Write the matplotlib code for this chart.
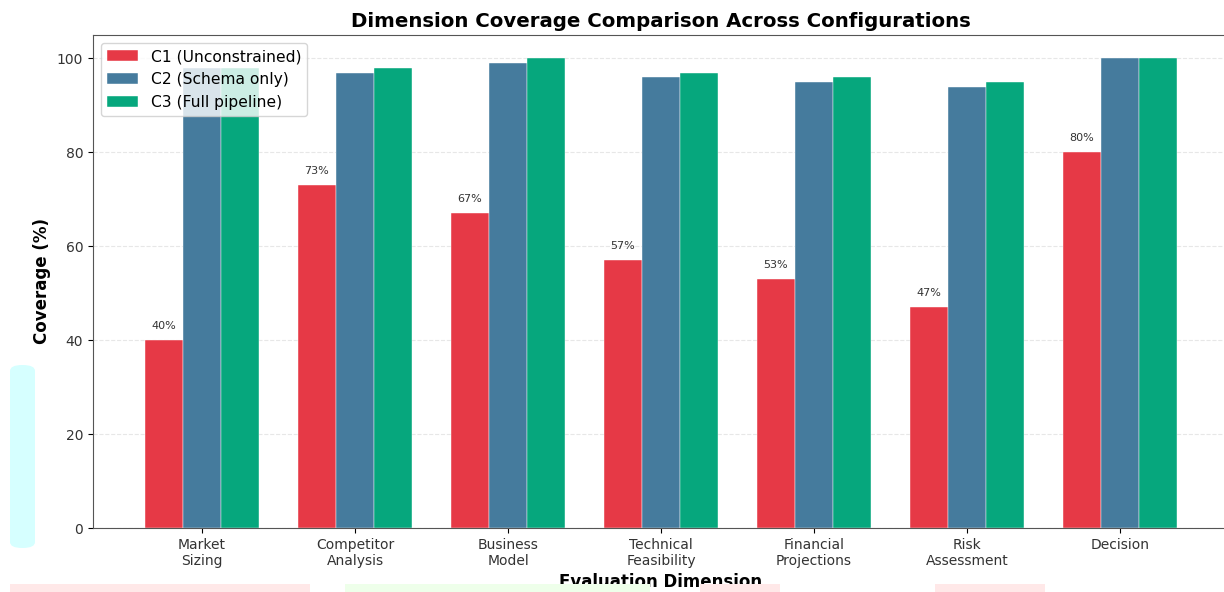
import matplotlib
matplotlib.use("Agg")
import matplotlib.pyplot as plt
import numpy as np
from matplotlib.patches import FancyBboxPatch, Rectangle

categories = ["Market\nSizing", "Competitor\nAnalysis", "Business\nModel", "Technical\nFeasibility",
              "Financial\nProjections", "Risk\nAssessment", "Decision"]
c1_values = [40, 73, 67, 57, 53, 47, 80]
c2_values = [98, 97, 99, 96, 95, 94, 100]
c3_values = [98, 98, 100, 97, 96, 95, 100]
series_names = ["C1 (Unconstrained)", "C2 (Schema only)", "C3 (Full pipeline)"]
colors = ["#E63946", "#457B9D", "#06A77D"]

fig = plt.figure(figsize=(12.24, 5.92), dpi=100)

# faint background decorations visible in the reference
fig.patches.append(FancyBboxPatch((10/1224, 1-548/592), 25/1224, 183/592,
                                  boxstyle="round,pad=0,rounding_size=0.01",
                                  transform=fig.transFigure, facecolor="#D6FFFF",
                                  edgecolor="none", zorder=0))
for x0, x1, c in [(10, 310, "#FFE8E8"), (345, 650, "#EEFFEA"), (700, 780, "#FFE8E8"), (935, 1045, "#FFE8E8")]:
    fig.patches.append(Rectangle((x0/1224, 0), (x1-x0)/1224, 8/592, transform=fig.transFigure,
                                 facecolor=c, edgecolor="none", zorder=0))

ax = fig.add_axes([93/1224, 1-528/592, (1229-93)/1224, (528-35)/592])

x = np.arange(len(categories))
w = 0.25
for i, (vals, name, col) in enumerate(zip([c1_values, c2_values, c3_values], series_names, colors)):
    bars = ax.bar(x + (i-1)*w, vals, w, label=name, color=col, edgecolor="white", linewidth=0.3)
    if i == 0:
        for b, v in zip(bars, vals):
            ax.text(b.get_x() + b.get_width()/2, v + 2, f"{v}%", ha="center", va="bottom",
                    fontsize=8, color="#333333")

ax.set_ylim(0, 105)
ax.set_xticks(x)
ax.set_xticklabels(categories, fontsize=10, color="#333333")
ax.tick_params(axis="y", labelsize=10, labelcolor="#333333")
ax.set_ylabel("Coverage (%)", fontsize=12, fontweight="bold")
ax.set_xlabel("Evaluation Dimension", fontsize=12, fontweight="bold", labelpad=4)
ax.set_title("Dimension Coverage Comparison Across Configurations", fontsize=14.2, fontweight="bold")
ax.yaxis.grid(True, linestyle="--", alpha=0.3)
ax.set_axisbelow(True)
for s in ax.spines.values():
    s.set_color("#555555")
ax.legend(loc="upper left", fontsize=11.2)

fig.savefig("out.png", dpi=100)
